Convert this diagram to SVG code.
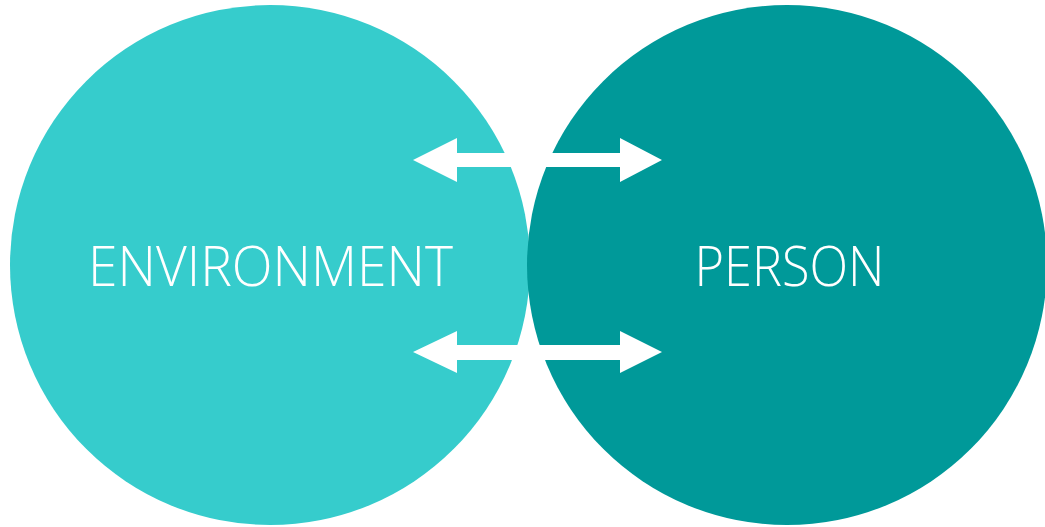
<svg xmlns="http://www.w3.org/2000/svg" width="1045" height="527" viewBox="0 0 1045 527">
<style>
.lbl{font-family:"Open Sans","Liberation Sans",sans-serif;font-weight:300;font-size:56px;fill:#ffffff;text-anchor:middle}
.arrow{fill:#ffffff}
</style>
<rect width="1045" height="527" fill="#ffffff"/>
<g id="environment">
<circle cx="270" cy="265" r="260" fill="#36CCCC"/>
<text class="lbl" x="270.5" y="286" textLength="365" lengthAdjust="spacingAndGlyphs">ENVIRONMENT</text>
</g>
<g id="person">
<circle cx="787" cy="265" r="260" fill="#009999"/>
<text class="lbl" x="789.5" y="286" textLength="190" lengthAdjust="spacingAndGlyphs">PERSON</text>
</g>
<g id="connectors">
<polygon class="arrow" points="413,160 457,138 457,153 620,153 620,138 662,160 620,182 620,167 457,167 457,182"/>
<polygon class="arrow" points="413,352 457,331 457,345 620,345 620,331 662,352 620,373 620,360 457,360 457,373"/>
</g>
</svg>
